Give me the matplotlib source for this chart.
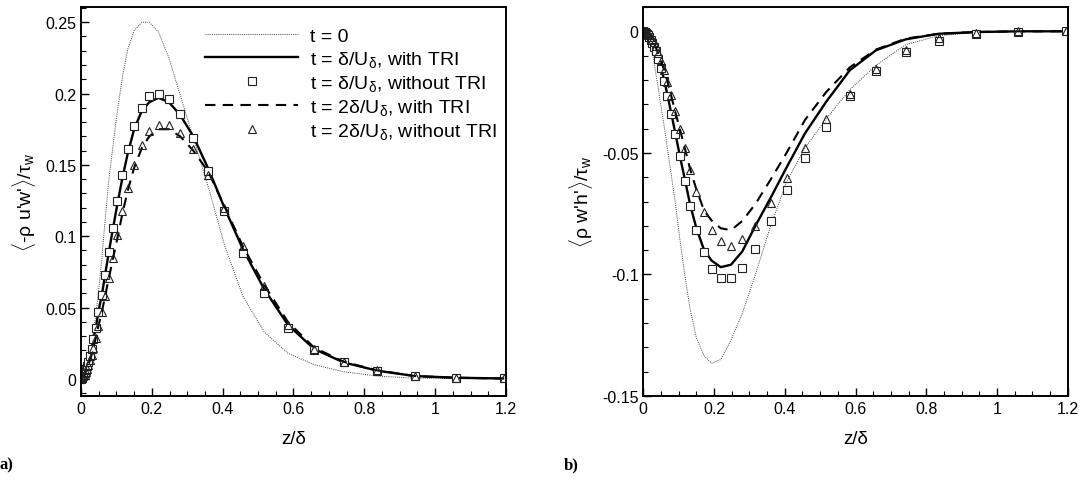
import matplotlib
matplotlib.use('Agg')
import matplotlib.pyplot as plt
from matplotlib.ticker import MultipleLocator, FuncFormatter

plt.rcParams['font.family'] = ['Liberation Sans', 'DejaVu Sans']
plt.rcParams['mathtext.fontset'] = 'custom'
plt.rcParams['mathtext.rm'] = 'Liberation Sans'
plt.rcParams['mathtext.it'] = 'Liberation Sans:italic'

# wall-normal grid z/delta (stretched)
z = [0, 0.002, 0.004, 0.007, 0.010, 0.013, 0.017, 0.021, 0.025, 0.030, 0.035, 0.042,
     0.049, 0.059, 0.068, 0.078, 0.090, 0.103, 0.117, 0.132, 0.150, 0.172, 0.193,
     0.219, 0.248, 0.280, 0.317, 0.360, 0.405, 0.457, 0.517, 0.584, 0.658, 0.742,
     0.836, 0.942, 1.060, 1.195]

# a) <-rho u'w'>/tau_w
uw_t0 = [0, 0.001, 0.002, 0.004, 0.006, 0.009, 0.012, 0.016, 0.020, 0.026, 0.034, 0.045,
         0.060, 0.085, 0.111, 0.138, 0.163, 0.188, 0.212, 0.231, 0.244, 0.250, 0.250,
         0.243, 0.225, 0.199, 0.169, 0.134, 0.094, 0.058, 0.033, 0.018, 0.010, 0.005,
         0.002, 0.0005, 0.0002, 0]
uw_t1_tri = [0, 0.0005, 0.001, 0.0025, 0.004, 0.006, 0.009, 0.012, 0.016, 0.021, 0.028, 0.036,
             0.047, 0.059, 0.073, 0.088, 0.105, 0.123, 0.141, 0.158, 0.175, 0.188, 0.194,
             0.197, 0.194, 0.185, 0.170, 0.147, 0.120, 0.091, 0.063, 0.038, 0.021, 0.0115,
             0.0058, 0.002, 0.0008, 0.0003]
uw_t1_notri = [0, 0.0005, 0.001, 0.0025, 0.004, 0.006, 0.009, 0.012, 0.016, 0.021, 0.028, 0.036,
               0.047, 0.059, 0.073, 0.089, 0.106, 0.125, 0.143, 0.161, 0.177, 0.190, 0.198,
               0.200, 0.196, 0.186, 0.169, 0.146, 0.118, 0.088, 0.060, 0.036, 0.020, 0.0117,
               0.0058, 0.0019, 0.0007, 0.0003]
uw_t2_tri = [0, 0.0004, 0.001, 0.002, 0.003, 0.005, 0.007, 0.010, 0.013, 0.017, 0.022, 0.029,
             0.037, 0.047, 0.058, 0.070, 0.084, 0.099, 0.116, 0.132, 0.148, 0.162, 0.170,
             0.175, 0.175, 0.170, 0.160, 0.145, 0.121, 0.093, 0.066, 0.040, 0.022, 0.012,
             0.006, 0.002, 0.0008, 0.0003]
uw_t2_notri = [0, 0.0004, 0.001, 0.002, 0.003, 0.005, 0.007, 0.010, 0.013, 0.017, 0.022, 0.029,
               0.037, 0.047, 0.058, 0.071, 0.085, 0.101, 0.118, 0.134, 0.150, 0.164, 0.174,
               0.178, 0.178, 0.172, 0.161, 0.143, 0.120, 0.093, 0.065, 0.038, 0.021, 0.012,
               0.006, 0.002, 0.0008, 0.0003]

# b) <rho w'h'>/tau_w
wh_t0 = [0, -0.0002, -0.0005, -0.001, -0.002, -0.003, -0.0045, -0.0065, -0.009, -0.012, -0.017,
         -0.023, -0.030, -0.039, -0.048, -0.058, -0.070, -0.085, -0.100, -0.114, -0.126,
         -0.1335, -0.1365, -0.135, -0.127, -0.116, -0.100, -0.080, -0.062, -0.048, -0.036,
         -0.024, -0.014, -0.0055, -0.0018, -0.0005, -0.0001, 0]
wh_t1_tri = [0, -0.0001, -0.0003, -0.0006, -0.001, -0.0016, -0.0025, -0.0035, -0.0047, -0.0062,
             -0.008, -0.011, -0.0145, -0.020, -0.026, -0.033, -0.0415, -0.051, -0.0606, -0.071,
             -0.081, -0.090, -0.0943, -0.097, -0.096, -0.0905, -0.080, -0.0685, -0.056, -0.042,
             -0.029, -0.016, -0.0078, -0.0033, -0.001, -0.0003, 0, 0]
wh_t1_notri = [0, -0.0001, -0.0003, -0.0006, -0.001, -0.0016, -0.0025, -0.0035, -0.0048, -0.0063,
               -0.0083, -0.0115, -0.0152, -0.0205, -0.0267, -0.0339, -0.0422, -0.0514, -0.0614,
               -0.0719, -0.0818, -0.0909, -0.0977, -0.1016, -0.1016, -0.0975, -0.0895, -0.0782,
               -0.0653, -0.0520, -0.0392, -0.0267, -0.0164, -0.0087, -0.0038, -0.0011, -0.0001, 0]
wh_t2_tri = [0, 0, -0.0001, -0.0003, -0.0006, -0.001, -0.0017, -0.0025, -0.0035, -0.0048, -0.0065,
             -0.009, -0.012, -0.0158, -0.0205, -0.026, -0.033, -0.040, -0.0478, -0.0565, -0.065,
             -0.0738, -0.0778, -0.081, -0.0818, -0.078, -0.071, -0.061, -0.050, -0.0365, -0.025,
             -0.0148, -0.0075, -0.003, -0.001, -0.0003, 0, 0]
wh_t2_notri = [0, -0.0001, -0.0002, -0.0004, -0.0007, -0.0011, -0.0017, -0.0025, -0.0034, -0.0046,
               -0.0062, -0.0088, -0.0122, -0.0158, -0.0207, -0.0263, -0.0327, -0.040, -0.0482,
               -0.0572, -0.0661, -0.0744, -0.0817, -0.0863, -0.0881, -0.0856, -0.0801, -0.0708,
               -0.0603, -0.0482, -0.0362, -0.0256, -0.0153, -0.0077, -0.0029, -0.0005, 0, 0]

labels = ['t = 0',
          r't = δ/U$_{\mathregular{δ}}$, with TRI',
          r't = δ/U$_{\mathregular{δ}}$, without TRI',
          r't = 2δ/U$_{\mathregular{δ}}$, with TRI',
          r't = 2δ/U$_{\mathregular{δ}}$, without TRI']

fig = plt.figure(figsize=(10.83, 4.81), dpi=100)
ax1 = fig.add_axes([0.0748, 0.1746, 0.3924, 0.8098])
ax2 = fig.add_axes([0.594, 0.1746, 0.3919, 0.8098])

fmt = FuncFormatter(lambda v, p: '{:g}'.format(round(v, 4)))


def draw(ax, t0, t1, t1n, t2, t2n):
    ax.plot(z, t0, color='#444444', lw=0.7, ls=(0, (1, 1.2)), label=labels[0])
    ax.plot(z, t1, color='black', lw=1.7, label=labels[1])
    ax.plot(z, t1n, ls='none', marker='s', ms=5.2, mfc='white', mec='#222222', mew=0.8,
            label=labels[2])
    ax.plot(z, t2, color='black', lw=1.5, ls=(0, (5, 3.5)), label=labels[3])
    ax.plot(z, t2n, ls='none', marker='^', ms=6.2, mfc='none', mec='#222222', mew=0.8,
            label=labels[4])
    ax.set_xlim(0, 1.2)
    ax.xaxis.set_major_locator(MultipleLocator(0.2))
    ax.xaxis.set_minor_locator(MultipleLocator(0.05))
    ax.yaxis.set_minor_locator(MultipleLocator(0.01))
    ax.xaxis.set_major_formatter(fmt)
    ax.yaxis.set_major_formatter(fmt)
    ax.tick_params(which='both', direction='in', top=False, right=False, labelsize=11.5)
    ax.tick_params(which='major', length=6, width=1)
    ax.tick_params(which='minor', length=3.5, width=0.8)
    for s in ax.spines.values():
        s.set_linewidth(1.4)
    ax.set_xlabel('z/δ', fontsize=13.5, labelpad=10)


draw(ax1, uw_t0, uw_t1_tri, uw_t1_notri, uw_t2_tri, uw_t2_notri)
ax1.set_ylim(-0.012, 0.261)
ax1.yaxis.set_major_locator(MultipleLocator(0.05))
ax1.set_ylabel(r"$\langle$-ρ u'w'$\rangle$/τ$_{\mathregular{w}}$", fontsize=14, labelpad=5)
ax1.legend(loc='upper left', bbox_to_anchor=(0.292, 0.946), frameon=False, fontsize=14,
           handlelength=4.8, handletextpad=0.6, labelspacing=0.2, borderpad=0,
           borderaxespad=0, numpoints=1)

draw(ax2, wh_t0, wh_t1_tri, wh_t1_notri, wh_t2_tri, wh_t2_notri)
ax2.set_ylim(-0.15, 0.0102)
ax2.yaxis.set_major_locator(MultipleLocator(0.05))
ax2.set_ylabel(r"$\langle$ρ w'h'$\rangle$/τ$_{\mathregular{w}}$", fontsize=14, labelpad=5)

fig.text(0.0, 0.025, 'a)', fontsize=12, fontweight='bold', family='Liberation Serif')
fig.text(0.521, 0.025, 'b)', fontsize=12, fontweight='bold', family='Liberation Serif')

fig.savefig('out.png', dpi=100)
